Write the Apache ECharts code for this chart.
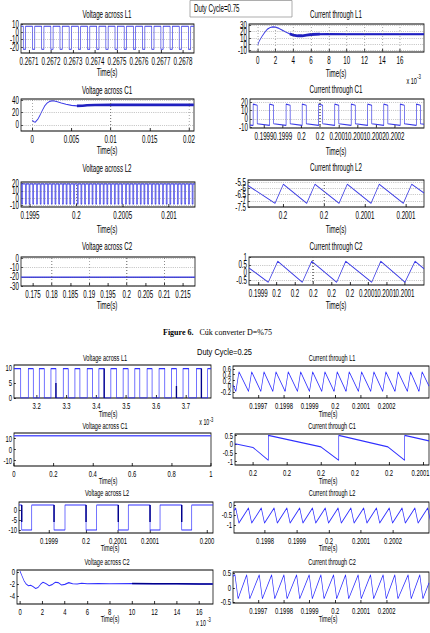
<!DOCTYPE html>
<html><head><meta charset="utf-8">
<script src="https://cdn.jsdelivr.net/npm/echarts@6/dist/echarts.min.js"></script>
<style>
html,body{margin:0;padding:0;background:#fff;overflow:hidden;width:430px;height:633px}
#wrap{width:430px;height:633px;overflow:hidden;position:relative;background:#fff}
#c{width:694px;height:633px;transform:scaleX(0.619597);transform-origin:0 0;position:absolute;left:0;top:0}
</style></head><body><div id="wrap"><div id="c"></div></div>
<script>
// ================= DATA : Figure 6, Duty Cycle = 0.75 =================
// Voltage across L1 (square wave transition times, s)
const vl1_75_xt = [0.2671,0.2672,0.2673,0.2674,0.2675,0.2676,0.2677,0.2678];
const vl1_75_yt = [10,0,-10,-20];
const vl1_75_falls = [0.267074,0.2671157,0.2671574,0.2671991,0.2672408,0.2672825,0.2673242,0.2673659,0.2674076,0.2674493,0.267491,0.2675327,0.2675744,0.2676161,0.2676578,0.2676995,0.2677412,0.2677829,0.2678246];
const vl1_75_rises = [0.2670844,0.2671261,0.2671678,0.2672095,0.2672512,0.2672929,0.2673346,0.2673763,0.267418,0.2674597,0.2675014,0.2675431,0.2675848,0.2676265,0.2676682,0.2677099,0.2677516,0.2677933,0.267835];
const vl1_75_levels = [7.5, -23];
// Voltage across C1
const vc1_75_xt = [0,0.005,0.01,0.015,0.02];
const vc1_75_yt = [40,20,0];
const vc1_75_t = [0,0.0002,0.0004,0.0007,0.001,0.0013,0.0016,0.0019,0.0022,0.0025,0.0028,0.0032,0.0037,0.0043,0.005,0.0057,0.0064,0.007,0.008,0.01,0.015,0.0206];
const vc1_75_v = [7.5,5,4.5,9,16,24,31,35.5,38,39,38.8,37.5,35.5,33.5,31.5,30.8,31,31.8,32.2,32.4,32.4,32.4];
// Voltage across L2
const vl2_75_xt = [0.1995,0.2,0.2005,0.201];
const vl2_75_yt = [20,10,0,-10];
const vl2_75_falls = [0.19941,0.19945,0.19949,0.19953,0.19957,0.19961,0.19965,0.19969,0.19973,0.19977,0.19981,0.19985,0.19989,0.19993,0.19997,0.20001,0.20005,0.20009,0.20013,0.20017,0.20021,0.20025,0.20029,0.20033,0.20037,0.20041,0.20045,0.20049,0.20053,0.20057,0.20061,0.20065,0.20069,0.20073,0.20077,0.20081,0.20085,0.20089,0.20093,0.20097,0.20101,0.20105,0.20109,0.20113,0.20117,0.20121,0.20125];
const vl2_75_rises = [0.19942,0.19946,0.1995,0.19954,0.19958,0.19962,0.19966,0.1997,0.19974,0.19978,0.19982,0.19986,0.1999,0.19994,0.19998,0.20002,0.20006,0.2001,0.20014,0.20018,0.20022,0.20026,0.2003,0.20034,0.20038,0.20042,0.20046,0.2005,0.20054,0.20058,0.20062,0.20066,0.2007,0.20074,0.20078,0.20082,0.20086,0.2009,0.20094,0.20098,0.20102,0.20106,0.2011,0.20114,0.20118,0.20122,0.20126];
const vl2_75_levels = [19.5, -8];
// Voltage across C2
const vc2_75_xt = [0.175,0.18,0.185,0.19,0.195,0.2,0.205,0.21,0.215];
const vc2_75_yt = [0,-10,-20,-30];
const vc2_75_t = [0.1718,0.2182];
const vc2_75_v = [-20.5,-20.5];
// Current through L1 (time in units of 1e-3 s)
const il1_75_xt = [0,2,4,6,8,10,12,14,16];
const il1_75_yt = [30,20,10,0,-10];
const il1_75_t = [0,0.2,0.5,0.8,1.1,1.4,1.7,2.0,2.4,2.8,3.2,3.6,4.0,4.5,5.0,5.5,6.0,7.0,8.0,10,18.7];
const il1_75_v = [-1,6,13,19,24,26.5,27.5,27,25,22,19,16.5,14.5,13.5,13.5,14.5,15.5,16,16.2,16,16];
// Current through C1
const ic1_75_xt = [0.19985,0.1999,0.19995,0.2,0.20005,0.2001,0.20015,0.2002];
const ic1_75_xl = ['0.1999','0.1999','0.2','0.2','0.2001','0.2001','0.2002','0.2002'];
const ic1_75_yt = [20,10,0,-10];
const ic1_75_rises = [0.199821,0.199865,0.199909,0.199952,0.199996,0.200039,0.200083,0.200127,0.20017,0.200214,0.200257];
const ic1_75_falls = [0.1998319,0.1998759,0.1999199,0.1999629,0.2000069,0.2000499,0.2000939,0.2001379,0.2001809,0.2002249,0.2002679];
const ic1_75_levels = [17.8, 16.5, -5.8, -7.8];   // high start, high end, low start, low end
// Current through L2
const il2_75_xt = [0.19995,0.2,0.20005,0.2001];
const il2_75_xl = ['0.2','0.2','0.2001','0.2001'];
const il2_75_yt = [-5.5,-6,-6.5,-7,-7.5];
const il2_75_t = [0.1999073,0.1999402,0.1999504,0.1999789,0.199989,0.2000183,0.2000284,0.2000573,0.2000674,0.2000967,0.200107,0.200122];
const il2_75_v = [-5.75,-7.2,-5.65,-7.2,-5.65,-7.2,-5.65,-7.2,-5.65,-7.2,-5.65,-6.35];
// Current through C2
const ic2_75_xt = [0.19994,0.19996,0.19998,0.2,0.20002,0.20004,0.20006,0.20008,0.2001];
const ic2_75_xl = ['0.1999','0.2','0.2','0.2','0.2','0.2','0.2001','0.2001','0.2001'];
const ic2_75_yt = [1,0.5,0,-0.5];
const ic2_75_t = [0.1999299,0.1999509,0.1999612,0.199988,0.1999982,0.2000255,0.2000353,0.2000637,0.2000735,0.2001,0.2001109,0.2001207];
const ic2_75_v = [0.3,-0.62,0.72,-0.62,0.72,-0.62,0.72,-0.62,0.72,-0.62,0.72,0.25];

// ================= DATA : Duty Cycle = 0.25 =================
// Voltage across L1 (time in units of 1e-3 s)
const vl1_25_xt = [3.2,3.3,3.4,3.5,3.6,3.7];
const vl1_25_yt = [0,5,10];
const vl1_25_falls = [3.1465,3.1886,3.2254,3.2645,3.3057,3.3448,3.3873,3.4261,3.4676,3.5064,3.5455,3.5866,3.6291,3.6682,3.7094,3.7518];
const vl1_25_rises = [3.1719,3.2087,3.2478,3.289,3.3281,3.3692,3.4084,3.4485,3.4896,3.5288,3.5699,3.61,3.6515,3.6903,3.7351,3.7729];
const vl1_25_levels = [9.8, 0];
const vl1_25_spikeT = [3.2645,3.4261,3.6682,3.7518];
const vl1_25_spikeTop = [5,9.8,4,9.8];
// Voltage across C1
const vc1_25_xt = [0,0.2,0.4,0.6,0.8,1];
const vc1_25_yt = [10,0,-10];
const vc1_25_t = [0,1];
const vc1_25_v = [12.5,12.5];
// Voltage across L2
const vl2_25_xt = [0.1999175,0.1999638,0.2000038,0.2000438,0.200115];
const vl2_25_xl = ['0.1999','0.2','0.2001','0.2001','0.200'];
const vl2_25_yt = [0,-5,-10];
const vl2_25_falls = [0.1998834,0.1999238,0.1999638,0.2000041,0.2000438,0.2000834];
const vl2_25_rises = [0.1998959,0.1999375,0.1999771,0.2000166,0.2000563,0.2000959];
const vl2_25_levels = [2.5, -10];
const vl2_25_ringBottom = -6;
// Voltage across C2 (time in units of 1e-3 s)
const vc2_25_xt = [0,2,4,6,8,10,12,14,16];
const vc2_25_yt = [0,-2,-4];
const vc2_25_t = [0,0.15,0.35,0.55,0.75,0.95,1.15,1.4,1.6,1.85,2.05,2.3,2.6,2.85,3.15,3.4,3.7,4.0,4.35,4.7,5.1,5.5,6,7,8,10,12,14,16,17.2];
const vc2_25_v = [0.2,-0.5,-1.4,-2.0,-2.3,-2.2,-2.4,-2.75,-2.6,-2.0,-1.7,-1.9,-2.3,-2.1,-1.7,-1.75,-2.15,-2.05,-1.75,-1.95,-2.0,-1.85,-1.95,-1.9,-1.95,-1.9,-1.95,-1.95,-2.0,-2.0];
// Current through L1
const il1_25_xt = [0.1997,0.1998,0.1999,0.2,0.2001,0.2002];
const il1_25_yt = [0.6,0.4,0.2,0,-0.2];
const il1_25_peaks = [0.1996249,0.1996743,0.1997222,0.1997689,0.1998167,0.199865,0.1999117,0.1999595,0.2000074,0.2000541,0.2001023,0.2001502,0.2001969,0.2002447,0.200293,0.2003381];
const il1_25_troughs = [0.1996128,0.1996622,0.1997101,0.1997568,0.1998046,0.1998529,0.1998996,0.1999474,0.1999953,0.200042,0.2000902,0.2001381,0.2001848,0.2002326,0.2002809,0.200326];
const il1_25_levels = [0.5, -0.17, 0.04, 0.01];   // peak, trough, start, end
// Current through C1
const ic1_25_xt = [0.19996,0.19998,0.2,0.20002,0.20004,0.20006];
const ic1_25_xl = ['0.2','0.2','0.2','0.2','0.2','0.2001'];
const ic1_25_yt = [0.5,0,-0.5,-1];
const ic1_25_t = [0.1999494,0.19996,0.199969,0.199969,0.2,0.2000104,0.2000104,0.2000394,0.2000492,0.2000492,0.2000635];
const ic1_25_v = [0.03,-0.18,-0.92,0.52,-0.15,-0.92,0.52,-0.15,-0.92,0.52,0.2];
// Current through L2
const il2_25_xt = [0.1998,0.1999,0.2,0.2001,0.2002];
const il2_25_yt = [0,-0.5,-1];
const il2_25_peaks = [0.1997084,0.1997484,0.1997884,0.1998284,0.1998684,0.1999084,0.1999484,0.1999884,0.2000284,0.2000684,0.2001084,0.2001484,0.2001884,0.2002284,0.2002684,0.2003084];
const il2_25_troughs = [0.1997184,0.1997584,0.1997984,0.1998384,0.1998784,0.1999184,0.1999584,0.1999984,0.2000384,0.2000784,0.2001184,0.2001584,0.2001984,0.2002384,0.2002784,0.2003184];
const il2_25_levels = [-0.15, -0.9, -0.28, -0.46];
// Current through C2
const ic2_25_xt = [0.1997,0.1998,0.1999,0.2,0.2001,0.2002];
const ic2_25_yt = [0.5,0,-0.5];
const ic2_25_peaks = [0.1996093,0.1996549,0.1997039,0.1997521,0.1998,0.1998494,0.1998984,0.199944,0.1999934,0.2000401,0.2000891,0.2001374,0.2001864,0.2002319,0.2002837,0.2003292];
const ic2_25_troughs = [0.1996213,0.1996669,0.1997159,0.1997641,0.199812,0.1998614,0.1999104,0.199956,0.2000054,0.2000521,0.2001011,0.2001494,0.2001984,0.2002439,0.2002957,0.2003412];
const ic2_25_levels = [0.45, -0.38, 0.4, 0.17];

// ================= BUILD =================
const S = 430/694;
const X = v => v / S;
const FT = '"Liberation Sans", Arial, Helvetica, sans-serif';
const C1 = '#3a3ae6', C1D = '#2020c0', C2 = '#3030ff', C2D = '#00008b';

function zip(t, v){ return t.map((x,k)=>[x, v[k]]); }
function square(x0, x1, falls, rises, hi, lo){
  const ev = falls.map(t=>[t,0]).concat(rises.map(t=>[t,1])).sort((a,b)=>a[0]-b[0]);
  let lvl = ev.length && ev[0][1]===0 ? hi : lo;
  const d = [[x0,lvl]];
  ev.forEach(([t,k])=>{ d.push([t,lvl]); lvl = k===0 ? lo : hi; d.push([t,lvl]); });
  d.push([x1,lvl]);
  return d;
}
function saw(x0, x1, peaks, troughs, lv){
  const ev = peaks.map(t=>[t,lv[0]]).concat(troughs.map(t=>[t,lv[1]])).sort((a,b)=>a[0]-b[0]);
  return [[x0,lv[2]]].concat(ev).concat([[x1,lv[3]]]);
}
function pulses(x0, x1, rises, falls, lv){
  const d = [[x0, -7.5]];
  rises.forEach((r,k)=>{ d.push([r,lv[3]],[r,lv[0]],[falls[k],lv[1]],[falls[k],lv[2]]); });
  d.push([x1, -6.4]);
  return d;
}
function ring(times, top, bottom){
  const d = [];
  times.forEach((t,k)=>{ d.push([t, Array.isArray(top)?top[k]:top],[t, bottom],[t,'-']); });
  return d;
}
function range(d, a, b){ return d.filter(p=>p[0]>=a && p[0]<=b); }

const panels=[], grids=[], xAxes=[], yAxes=[], series=[];
function panel(cfg, lines){
  const i = grids.length;
  panels.push(cfg);
  const [l,t,w,h] = cfg.box;
  const top = cfg.f===1;
  grids.push({left:X(l), top:t, width:X(w), height:h, show:true, borderColor:'#000', borderWidth:1.2,
    backgroundColor:'#fff', containLabel:false, outerBoundsMode:'none'});
  const common = {gridIndex:i, type:'value', axisLine:{show:false, onZero:false}, splitLine:{show:false}, splitArea:{show:false}, axisLabel:{show:false}};
  xAxes.push(Object.assign({}, common, {min:cfg.x[0], max:cfg.x[1],
    axisTick:{show:true, inside:true, length:3, customValues:cfg.xt, lineStyle:{color:'#000', width:1}}}));
  yAxes.push(Object.assign({}, common, {min:cfg.y[0], max:cfg.y[1],
    axisTick:{show:true, inside:true, length:3, customValues:cfg.yt, lineStyle:{color:'#000', width:1}}}));
  lines.forEach((ln,j)=>{
    const s = {type:'line', xAxisIndex:i, yAxisIndex:i, data:ln.data, symbol:'none', showSymbol:false, silent:true,
      animation:false, clip:true, connectNulls:false, lineStyle:{color:ln.color, width:ln.width}, z:ln.z||3};
    if (j===0 && top){
      s.markLine = {silent:true, symbol:['none','none'], label:{show:false}, animation:false,
        lineStyle:{type:[1,2], color:'#777', width:0.8}, emphasis:{disabled:true},
        data: cfg.xt.map(v=>({xAxis:v})).concat(cfg.yt.map(v=>({yAxis:v})))};
    }
    series.push(s);
  });
}

// ---- top figure (D=0.75) ----
panel({f:1, box:[21,24,173,29], x:[0.2670636,0.26785], xt:vl1_75_xt, y:[-28,10.5], yt:vl1_75_yt},
  [{data:square(0.2670636,0.26785,vl1_75_falls,vl1_75_rises,vl1_75_levels[0],vl1_75_levels[1]), color:C1, width:1.1}]);
const vc1Data = zip(vc1_75_t, vc1_75_v);
panel({f:1, box:[21,99,173,32], x:[-0.00144,0.02064], xt:vc1_75_xt, y:[-10,42], yt:vc1_75_yt},
  [{data:vc1Data, color:C1, width:1.2},{data:range(vc1Data,0.0055,1), color:C1D, width:2.6}]);
panel({f:1, box:[21,182,174,25], x:[0.199403,0.201281], xt:vl2_75_xt, y:[-12,22], yt:vl2_75_yt},
  [{data:square(0.199403,0.201281,vl2_75_falls,vl2_75_rises,vl2_75_levels[0],vl2_75_levels[1]), color:C1, width:1.1}]);
panel({f:1, box:[21,257,174,29], x:[0.1718,0.2182], xt:vc2_75_xt, y:[-30,1.5], yt:vc2_75_yt},
  [{data:zip(vc2_75_t,vc2_75_v), color:C1, width:1.6}]);
const il1Data = zip(il1_75_t, il1_75_v);
panel({f:1, box:[249,24,175,28], x:[-0.98,18.7], xt:il1_75_xt, y:[-12,32], yt:il1_75_yt},
  [{data:il1Data, color:C1, width:1.2},{data:range(il1Data,3.5,7.2), color:C1D, width:2.8},{data:range(il1Data,7,20), color:C1D, width:2}]);
panel({f:1, box:[250,99,174,29], x:[0.1998126,0.2002775], xt:ic1_75_xt, xl:ic1_75_xl, y:[-11,24], yt:ic1_75_yt},
  [{data:pulses(0.1998126,0.2002775,ic1_75_rises,ic1_75_falls,ic1_75_levels), color:C1, width:1.1}]);
panel({f:1, box:[248,180,176,27], x:[0.1999073,0.200122], xt:il2_75_xt, xl:il2_75_xl, y:[-7.5,-5.3], yt:il2_75_yt},
  [{data:zip(il2_75_t,il2_75_v), color:C1, width:1.1}]);
panel({f:1, box:[249,257,175,28], x:[0.1999299,0.2001207], xt:ic2_75_xt, xl:ic2_75_xl, y:[-0.8,1.0], yt:ic2_75_yt},
  [{data:zip(ic2_75_t,ic2_75_v), color:C1, width:1.1}]);

// ---- bottom figure (D=0.25) ----
panel({f:2, box:[14,365,197,33], x:[3.124,3.784], xt:vl1_25_xt, y:[0,11], yt:vl1_25_yt},
  [{data:square(3.124,3.784,vl1_25_falls,vl1_25_rises,vl1_25_levels[0],vl1_25_levels[1]), color:C2, width:1.1},
   {data:ring(vl1_25_spikeT, vl1_25_spikeTop, 0), color:C2D, width:2.2, z:4}]);
panel({f:2, box:[14,433,197,33], x:[0,1], xt:vc1_25_xt, y:[-15,15], yt:vc1_25_yt},
  [{data:zip(vc1_25_t,vc1_25_v), color:'#5a5aff', width:1.6}]);
panel({f:2, box:[19,502,194,31], x:[0.19988,0.2001225], xt:vl2_25_xt, xl:vl2_25_xl, y:[-11.5,4], yt:vl2_25_yt},
  [{data:square(0.19988,0.2001225,vl2_25_falls,vl2_25_rises,vl2_25_levels[0],vl2_25_levels[1]), color:C2, width:1.1},
   {data:ring(vl2_25_falls, vl2_25_levels[0], vl2_25_ringBottom), color:C2D, width:2.4, z:4}]);
const vc2Data = zip(vc2_25_t, vc2_25_v);
panel({f:2, box:[17,570,196,34], x:[-0.27,17.22], xt:vc2_25_xt, y:[-5.4,0.4], yt:vc2_25_yt},
  [{data:vc2Data, color:C2, width:1.1},{data:range(vc2Data,10,20), color:C2D, width:1.6}]);
panel({f:2, box:[233,366,196,32], x:[0.1996016,0.200365], xt:il1_25_xt, y:[-0.4,0.7], yt:il1_25_yt},
  [{data:saw(0.1996016,0.200365,il1_25_peaks,il1_25_troughs,il1_25_levels), color:C2, width:1.1}]);
panel({f:2, box:[235,434,194,31], x:[0.1999494,0.2000635], xt:ic1_25_xt, xl:ic1_25_xl, y:[-1.2,0.6], yt:ic1_25_yt},
  [{data:zip(ic1_25_t,ic1_25_v), color:C2, width:1.1}]);
panel({f:2, box:[234,502,195,31], x:[0.1997031,0.2003125], xt:il2_25_xt, y:[-1.4,0.15], yt:il2_25_yt},
  [{data:saw(0.1997031,0.2003125,il2_25_peaks,il2_25_troughs,il2_25_levels), color:C2, width:1.1}]);
panel({f:2, box:[233,572,196,31], x:[0.1996016,0.200365], xt:ic2_25_xt, y:[-0.53,0.55], yt:ic2_25_yt},
  [{data:saw(0.1996016,0.200365,ic2_25_peaks,ic2_25_troughs,ic2_25_levels), color:C2, width:1.1}]);

// ---- texts ----
function txt(x, y, s, size, o){
  o = o || {};
  const al = o.align || 'center';
  const va = o.valign || 'middle';
  const el = {type:'text', x:o.inner ? x : X(x), y:y, silent:true, z:10,
    style:{text:s, fill:'#000', font:(o.bold?'bold ':'') + size + 'px ' + (o.family||FT),
      align:al, verticalAlign:va, textAlign:al, textVerticalAlign:va}};
  if (o.sx) el.scaleX = o.sx;
  return el;
}
const G = [];
G.push({type:'rect', silent:true, z:9, shape:{x:X(190), y:0.5, width:X(102), height:16.5}, style:{fill:'#fff', stroke:'#9a9a9a', lineWidth:1}});
G.push(txt(194, 8.5, 'Duty Cycle=0.75', 10, {align:'left'}));
[['Voltage across L1',107,14],['Voltage across C1',107,90],['Voltage across L2',107,168],['Voltage across C2',107,246],
 ['Current through L1',336,14],['Current through C1',336,89],['Current through L2',336,167],['Current through C2',336,246]]
 .forEach(a=>G.push(txt(a[1],a[2],a[0],10)));
[[107,72],[107,150],[107,229],[107,305],[336,73],[336,151],[336,229],[336,305]].forEach(a=>G.push(txt(a[0],a[1],'Time(s)',10)));
G.push(txt(411.7,80.5,'x 10',9));
G.push(txt(419,77,'-3',7));
G.push(txt(163,333,'Figure 6.',8,{align:'left', bold:true, family:'"Liberation Serif", "Times New Roman", serif', sx:1/S}));
G.push(txt(199.5,333,'Cúk converter D=%75',8,{align:'left', family:'"Liberation Serif", "Times New Roman", serif', sx:1/S}));
G.push(txt(197,352,'Duty Cycle=0.25',9,{align:'left', sx:1.34}));
[['Voltage across L1',105,358],['Voltage across C1',105,426],['Voltage across L2',107,493],['Voltage across C2',107,562],
 ['Current through L1',332,358],['Current through C1',332,426],['Current through L2',332,493],['Current through C2',332,562]]
 .forEach(a=>G.push(txt(a[1],a[2],a[0],9)));
[[108,414],[108,481],[110,548],[110,619],[328,414],[328,481],[328,548],[328,619]].forEach(a=>G.push(txt(a[0],a[1],'Time(s)',9)));
G.push(txt(204.3,422.3,'x 10',8.5));
G.push(txt(211.5,419.5,'-3',6.5));
G.push(txt(201,622.5,'x 10',8.5));
G.push(txt(209,619.5,'-3',6.5));

const chart = echarts.init(document.getElementById('c'), null, {renderer:'svg', width:694, height:633});
chart.setOption({animation:false, backgroundColor:'#fff', grid:grids, xAxis:xAxes, yAxis:yAxes, series:series});

// tick labels placed through each axis' own scale
const L = [];
panels.forEach((cfg,i)=>{
  const [l,t,w,h] = cfg.box;
  const fs = cfg.f===1 ? 10 : 9.5;
  cfg.xt.forEach((v,k)=>{
    if (v < cfg.x[0] || v > cfg.x[1]) return;
    const p = chart.convertToPixel({gridIndex:i}, [v, cfg.y[0]]);
    const s = cfg.xl ? cfg.xl[k] : String(v);
    const halfW = s.length * fs * 0.5 * S / 2;
    let al = 'center', xx = p[0];
    if (p[0]*S + halfW > 429.5){ al = 'right'; xx = X(429.5); }
    L.push(txt(xx, t + h + 3, s, fs, {inner:true, align:al, valign:'top'}));
  });
  cfg.yt.forEach(v=>{
    if (v < cfg.y[0]-1e-9 || v > cfg.y[1]+1e-9) return;
    const p = chart.convertToPixel({gridIndex:i}, [cfg.x[0], v]);
    L.push(txt(X(l) - X(2), p[1], String(v), fs, {inner:true, align:'right'}));
  });
});
chart.setOption({graphic:{elements:G.concat(L)}});
</script>
</body></html>
